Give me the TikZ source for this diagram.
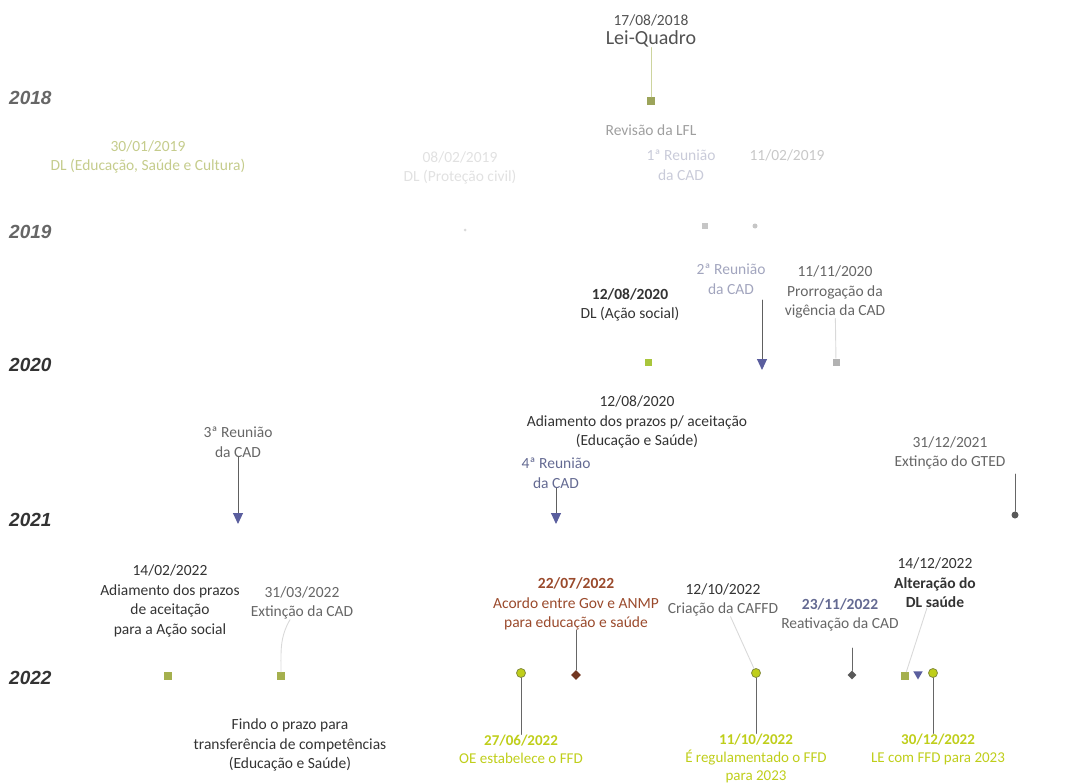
\documentclass[tikz,border=0pt]{standalone}
\usepackage{fontspec}
\setmainfont{Carlito}
\newfontfamily\yearfont{Liberation Sans}
\usetikzlibrary{arrows.meta,shapes.geometric}
\definecolor{txtdark}{HTML}{333333}
\definecolor{txtgray}{HTML}{666666}
\definecolor{txtfaint}{HTML}{C8C8C8}
\definecolor{txtblue}{HTML}{646A92}
\definecolor{tipblue}{HTML}{5A5E9E}
\definecolor{olive}{HTML}{A5B04E}
\definecolor{leaf}{HTML}{A9C63C}
\definecolor{lime}{HTML}{BFCE1A}
\definecolor{rust}{HTML}{9A4A2C}
\begin{document}
\begin{tikzpicture}[x=1pt, y=-1pt, line join=round, line cap=round,
    year/.style={anchor=west, inner sep=0, font=\yearfont\bfseries\itshape\fontsize{19}{22}\selectfont},
    evt/.style={align=center, inner sep=0, font=\fontsize{15.5}{19.5}\selectfont},
    low/.style={align=center, inner sep=0, font=\fontsize{15}{18}\selectfont, text=lime},
    sq/.style={rectangle, inner sep=0, minimum size=8},
    rd/.style={circle, inner sep=0, minimum size=9, draw=olive!80!black, fill=lime, line width=0.8},
    dm/.style={diamond, inner sep=0, minimum size=10},
    lk/.style={draw=gray!80!black, line width=0.9},
    lkfaint/.style={draw=gray!30, line width=0.9},
    arr/.style={draw=gray!75!black, line width=1, -{Triangle[width=10pt,length=11pt,color=tipblue]}}]
  \useasboundingbox (0,0) rectangle (1092,784);
  % Anos
  \node[year, text=txtgray] (y18) at (9,98) {2018};
  \node[year, text=txtgray] (y19) at (9,232) {2019};
  \node[year, text=txtdark] (y20) at (9,365) {2020};
  \node[year, text=txtdark] (y21) at (9,520) {2021};
  \node[year, text=txtdark] (y22) at (9,678) {2022};
  % 2018 - 2019
  \node[evt, text=txtdark!85] (tLQ) at (651,31) {17/08/2018\\{\fontsize{20}{23}\selectfont Lei-Quadro}};
  \node[sq, fill=olive!75!gray] (mLQ) at (651,101) {};
  \draw[lk, draw=olive!55] (tLQ) -- (mLQ);
  \node[evt, text=gray!75] (tLFL) at (651,130) {Revisão da LFL};
  \node[evt, text=txtblue!35] (tR1) at (681,165) {1ª Reunião\\da CAD};
  \node[evt, text=txtfaint] (tF1) at (787,155) {11/02/2019};
  \node[evt, text=olive!65] (tDL19) at (148,157) {30/01/2019\\DL (Educação, Saúde e Cultura)};
  \node[evt, text=txtfaint!55] (tF2) at (460,168) {08/02/2019\\DL (Proteção civil)};
  \node[sq, fill=gray!45, minimum size=6] (mF1) at (705,226) {};
  \node[circle, fill=gray!45, inner sep=0, minimum size=5] (mF2) at (755,226) {};
  \node[circle, fill=gray!30, inner sep=0, minimum size=3] (mF3) at (465,230) {};
  % 2020
  \node[evt, text=txtdark] (tAS) at (630,305) {\bfseries 12/08/2020\\DL (Ação social)};
  \node[sq, fill=leaf, minimum size=7] (mAS) at (648,362) {};
  \node[evt, text=txtblue!60] (tR2) at (731,279) {2ª Reunião\\da CAD};
  \coordinate (sR2) at (762,300);
  \coordinate (mR2) at (762,370);
  \draw[arr] (sR2) -- (mR2);
  \node[evt, text=txtgray] (tPV) at (835,292) {11/11/2020\\Prorrogação da\\vigência da CAD};
  \node[sq, fill=gray!60, minimum size=7] (mPV) at (836,362) {};
  \draw[lkfaint] (tPV) -- (mPV);
  \node[evt, text=txtdark] (tAP) at (637,422) {12/08/2020\\Adiamento dos prazos p/ aceitação\\(Educação e Saúde)};
  % 2021
  \node[evt, text=txtgray] (tR3) at (238,442) {3ª Reunião\\da CAD};
  \coordinate (mR3) at (238,524);
  \draw[arr] (tR3) -- (mR3);
  \node[evt, text=txtblue] (tR4) at (556,473) {4ª Reunião\\da CAD};
  \coordinate (mR4) at (556,524);
  \draw[arr] (tR4) -- (mR4);
  \node[evt, text=txtgray] (tGT) at (950,453) {31/12/2021\\Extinção do GTED};
  \coordinate (sGT) at (1015,474);
  \node[circle, fill=gray!70!black, inner sep=0, minimum size=7] (mGT) at (1015,515) {};
  \draw[lk] (sGT) -- (mGT);
  % 2022
  \node[evt, text=txtdark] (tAS2) at (170,601) {14/02/2022\\Adiamento dos prazos\\de aceitação\\para a Ação social};
  \node[sq, fill=olive] (mAS2) at (168,676) {};
  \node[evt, text=txtgray] (tEC) at (302,603) {31/03/2022\\Extinção da CAD};
  \node[sq, fill=olive] (mEC) at (281,676) {};
  \draw[lkfaint] (mEC) to[out=90, in=-120] (tEC.south west -| 290,0);
  \node[evt, text=txtdark] (tFP) at (290,745) {Findo o prazo para\\transferência de competências\\(Educação e Saúde)};
  \node[evt, text=rust] (tAC) at (576,604) {\textbf{22/07/2022}\\Acordo entre Gov e ANMP\\para educação e saúde};
  \node[dm, fill=rust!75!black] (mAC) at (576,675) {};
  \draw[lk] (tAC) -- (mAC);
  \node[rd] (mOE) at (521,673) {};
  \node[low] (tOE) at (521,749) {\textbf{27/06/2022}\\OE estabelece o FFD};
  \draw[lk] (mOE) -- (tOE);
  \node[evt, text=txtgray] (tCF) at (723,600) {\textcolor{txtdark}{12/10/2022}\\Criação da CAFFD};
  \node[rd] (mCF) at (756,673) {};
  \draw[lkfaint] (tCF) -- (mCF);
  \node[low] (tRG) at (756,758) {\textbf{11/10/2022}\\É regulamentado o FFD\\para 2023};
  \draw[lk] (mCF) -- (tRG);
  \node[evt, text=txtgray] (tRA) at (840,615) {\textbf{\textcolor{txtblue}{23/11/2022}}\\Reativação da CAD};
  \coordinate (sRA) at (852,648);
  \node[dm, fill=gray!70!black, minimum size=9] (mRA) at (852,675) {};
  \draw[lk] (sRA) -- (mRA);
  \node[evt, text=txtdark] (tDS) at (935,583) {14/12/2022\\\textbf{Alteração do}\\\textbf{DL saúde}};
  \node[sq, fill=olive] (mDS) at (905,676) {};
  \draw[lkfaint] (tDS) -- (mDS);
  \node[regular polygon, regular polygon sides=3, shape border rotate=180, fill=tipblue, inner sep=0, minimum size=11] (mR5) at (918,674) {};
  \node[rd] (mLE) at (933,673) {};
  \node[low] (tLE) at (938,749) {\textbf{30/12/2022}\\LE com FFD para 2023};
  \draw[lk] (mLE) -- (mLE |- tLE.north);
\end{tikzpicture}
\end{document}
